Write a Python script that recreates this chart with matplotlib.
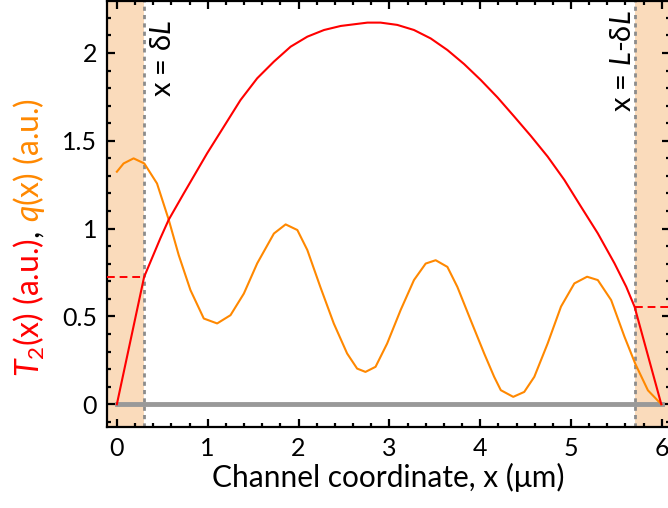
import matplotlib
matplotlib.use('Agg')
import matplotlib.pyplot as plt
from matplotlib.ticker import MultipleLocator

# Kanal und Randbereiche
L = 6.0
dL = 0.3

# T2(x)
t2_x = [0.0, 0.3, 0.478, 0.57, 0.736, 0.994, 1.177, 1.361, 1.545, 1.729, 1.913,
        2.097, 2.281, 2.465, 2.759, 2.903, 3.087, 3.271, 3.455, 3.639, 3.823,
        4.007, 4.191, 4.375, 4.559, 4.743, 4.927, 5.111, 5.295, 5.479, 5.608,
        5.70, 5.994]
t2_y = [0.0, 0.725, 0.944, 1.05, 1.200, 1.429, 1.580, 1.732, 1.856, 1.951, 2.036,
        2.093, 2.131, 2.154, 2.173, 2.173, 2.160, 2.131, 2.083, 2.017, 1.937,
        1.846, 1.747, 1.638, 1.527, 1.410, 1.277, 1.124, 0.973, 0.802, 0.669,
        0.555, 0.0]

# q(x)
q_x = [0.0, 0.074, 0.184, 0.302, 0.442, 0.570, 0.681, 0.810, 0.957, 1.104, 1.251,
       1.398, 1.545, 1.729, 1.858, 1.987, 2.097, 2.240, 2.388, 2.535, 2.645, 2.737,
       2.848, 2.976, 3.124, 3.271, 3.400, 3.510, 3.639, 3.749, 3.896, 4.044, 4.154,
       4.227, 4.364, 4.485, 4.596, 4.743, 4.890, 5.037, 5.177, 5.295, 5.442, 5.589,
       5.707, 5.847, 5.994]
q_y = [1.324, 1.371, 1.400, 1.371, 1.257, 1.052, 0.849, 0.650, 0.488, 0.460, 0.507,
       0.630, 0.802, 0.972, 1.024, 0.992, 0.878, 0.668, 0.460, 0.289, 0.203, 0.184,
       0.213, 0.346, 0.536, 0.707, 0.801, 0.820, 0.782, 0.668, 0.478, 0.289, 0.156,
       0.080, 0.042, 0.070, 0.156, 0.346, 0.556, 0.688, 0.726, 0.707, 0.593, 0.384,
       0.231, 0.079, 0.0]

# Randwerte (gestrichelt)
t2_left = 0.725
t2_right = 0.555

plt.rcParams['font.family'] = ['Lato', 'DejaVu Sans']
plt.rcParams['mathtext.fontset'] = 'custom'
plt.rcParams['mathtext.rm'] = 'Lato'
plt.rcParams['mathtext.it'] = 'Lato:italic'

fig = plt.figure(figsize=(6.68, 5.08), dpi=100)
ax = fig.add_axes([0.160, 0.159, 0.843, 0.839])

xmin, xmax = -0.11, 6.09
ymin, ymax = -0.131, 2.296
ax.set_xlim(xmin, xmax)
ax.set_ylim(ymin, ymax)

shade = '#FADBBB'
ax.axvspan(xmin, dL, color=shade, lw=0, zorder=0)
ax.axvspan(L - dL, xmax, color=shade, lw=0, zorder=0)
ax.axvline(dL, color='#8c8c8c', ls=(0, (1.5, 1.5)), lw=2, zorder=1)
ax.axvline(L - dL, color='#8c8c8c', ls=(0, (1.5, 1.5)), lw=2, zorder=1)

ax.plot([0, L], [0, 0], color='#999999', lw=3.5, zorder=2)

ax.plot([xmin, dL], [t2_left, t2_left], color='red', ls=(0, (4, 2.5)), lw=1.4, zorder=3)
ax.plot([L - dL, xmax], [t2_right, t2_right], color='red', ls=(0, (4, 2.5)), lw=1.4, zorder=3)

ax.plot(q_x, q_y, color='#FF8800', lw=1.5, zorder=4, solid_joinstyle='round')
ax.plot(t2_x, t2_y, color='red', lw=1.5, zorder=5, solid_joinstyle='round')

ax.text(0.508, 2.19, r'x = δ$L$', rotation=90, ha='center', va='top', fontsize=21)
ax.text(5.574, 2.245, r'x = $L$-δ$L$', rotation=90, ha='center', va='top', fontsize=21)

# Achsen
for s in ax.spines.values():
    s.set_linewidth(1.6)
ax.xaxis.set_major_locator(MultipleLocator(1))
ax.xaxis.set_minor_locator(MultipleLocator(0.2))
ax.yaxis.set_minor_locator(MultipleLocator(0.1))
ax.set_yticks([0, 0.5, 1, 1.5, 2])
ax.set_yticklabels(['0', '0.5', '1', '1.5', '2'])
ax.tick_params(which='both', direction='in', top=True, right=True, labelsize=18, width=1.6)
ax.tick_params(which='major', length=6, pad=7)
ax.tick_params(which='minor', length=3)

ax.set_xlabel('Channel coordinate, x (μm)', fontsize=21.5, labelpad=2)

# mehrfarbige y-Beschriftung
fig.canvas.draw()
r = fig.canvas.get_renderer()
t1 = fig.text(29 / 668, 1 - 377 / 508, r'$T_2$(x) (a.u.)', rotation=90, color='red',
              fontsize=23, ha='center', va='bottom')
bb = t1.get_window_extent(r)
t2 = fig.text(29 / 668, (bb.y1 + 1) / fig.bbox.height, ',', rotation=90, color='black',
              fontsize=23, ha='center', va='bottom')
bb = t2.get_window_extent(r)
t3 = fig.text(29 / 668, (bb.y1 + 8) / fig.bbox.height, r'$q$(x) (a.u.)', rotation=90,
              color='#FF8800', fontsize=23, ha='center', va='bottom')

fig.savefig('out.png', dpi=100)
